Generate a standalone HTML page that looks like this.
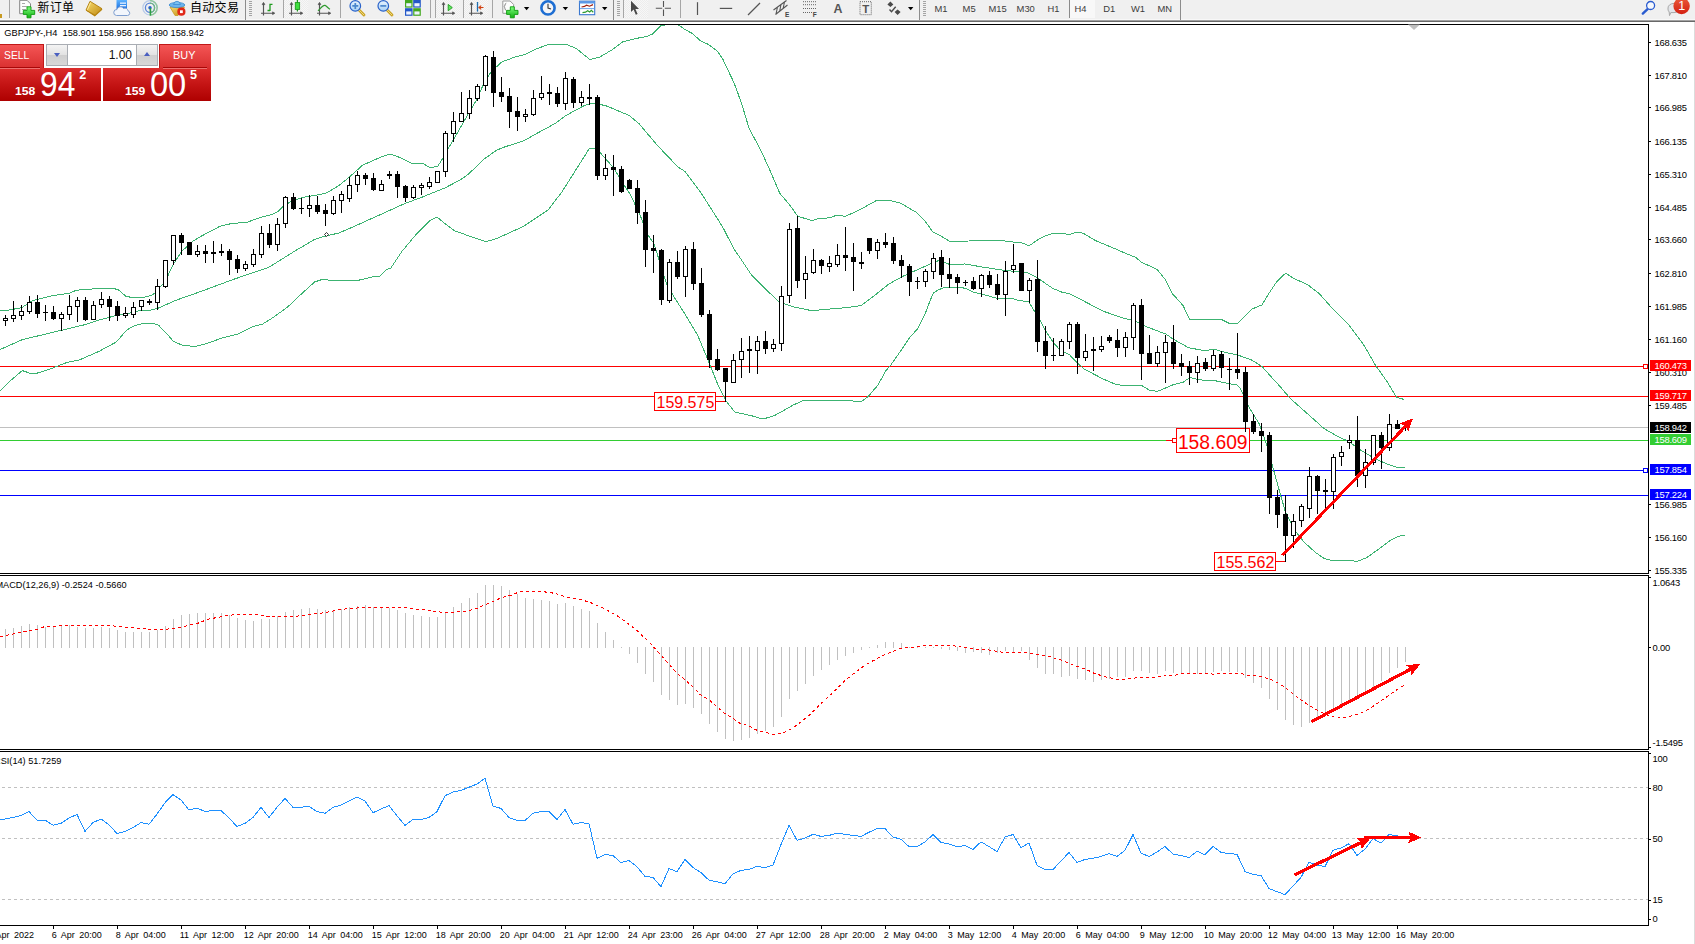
<!DOCTYPE html>
<html><head><meta charset="utf-8"><title>GBPJPY-,H4</title><style>
html,body{margin:0;padding:0;background:#fff}
body{width:1695px;height:944px;overflow:hidden;position:relative;font-family:"Liberation Sans","Noto Sans CJK SC",sans-serif;color:#000}
#tb{position:absolute;left:0;top:0;width:1695px;height:20px;background:#f0f0f0}
#tbl{position:absolute;left:0;top:19px;width:1695px;height:3px;background:linear-gradient(#f8f8f8 0,#f8f8f8 1px,#a2a2a2 1px,#a2a2a2 2px,#686868 2px,#686868 3px)}
#redge{position:absolute;left:1694px;top:22px;width:1px;height:922px;background:#dcdcdc}
.cj{position:absolute;top:0.8px;letter-spacing:0.3px;font-size:12px;line-height:15px;color:#000;white-space:nowrap}
.tf{position:absolute;top:2.5px;font-size:9.4px;line-height:12px;color:#3c3c3c;white-space:nowrap}
svg{position:absolute;left:0;top:0}
text{font-family:"Liberation Sans",sans-serif;white-space:pre}
.ax{font-size:9.4px;letter-spacing:-0.22px;fill:#000}
.dt{font-size:9px;letter-spacing:0;word-spacing:2px}
.tg{font-size:9.4px;letter-spacing:-0.22px;fill:#fff}
#panel{position:absolute;left:0;top:44px;width:211px;height:57px}
#panel div{position:absolute}
.pw{color:#fff;white-space:nowrap}
.sx{transform-origin:0 0}
</style></head><body>
<div id="tb"></div><div id="tbl"></div><div id="redge"></div>
<div class="cj" style="left:37.5px">新订单</div>
<div class="cj" style="left:190px">自动交易</div>
<div style="position:absolute;left:1069px;top:0;width:25px;height:18px;background:#f8f8f8;border-left:1px solid #8a8a8a"></div>
<div class="tf" style="left:934.5px">M1</div>
<div class="tf" style="left:962.6px">M5</div>
<div class="tf" style="left:988.5px">M15</div>
<div class="tf" style="left:1016.6px">M30</div>
<div class="tf" style="left:1047.5px">H1</div>
<div class="tf" style="left:1074.4px">H4</div>
<div class="tf" style="left:1103.3px">D1</div>
<div class="tf" style="left:1131px">W1</div>
<div class="tf" style="left:1157.5px">MN</div>
<svg width="1695" height="944" viewBox="0 0 1695 944">
<defs><clipPath id="cpMain"><rect x="0" y="25" width="1648" height="548"/></clipPath>
<linearGradient id="gBadge" x1="0" y1="0" x2="0" y2="1"><stop offset="0" stop-color="#ea5a3a"/><stop offset="1" stop-color="#d31f10"/></linearGradient>
</defs>
<g shape-rendering="crispEdges">
<line x1="0" y1="366.5" x2="1648" y2="366.5" stroke="#ff0000" stroke-width="1"/>
<line x1="0" y1="396.5" x2="1648" y2="396.5" stroke="#ff0000" stroke-width="1"/>
<line x1="0" y1="427.5" x2="1648" y2="427.5" stroke="#c0c0c0" stroke-width="1"/>
<line x1="0" y1="440.5" x2="1648" y2="440.5" stroke="#32cd32" stroke-width="1"/>
<line x1="0" y1="470.5" x2="1648" y2="470.5" stroke="#0000ff" stroke-width="1"/>
<line x1="0" y1="495.5" x2="1648" y2="495.5" stroke="#0000ff" stroke-width="1"/>
</g>
<g clip-path="url(#cpMain)" stroke="#3cb371" stroke-width="1" shape-rendering="crispEdges">
<polyline points="0,310.5 7.6,310.3 21.6,307.7 33.1,300.4 50.9,296 69.9,293.1 76.3,290.2 89,289.3 99.2,288.4 113.2,288.4 118.2,289.7 125.9,296.3 131,297.3 143.7,297.3 151.3,295.3 155.1,293.1 165.3,281 173.6,263.9 181.8,251.2 193.3,241 200,236.8 220.3,226.1 233.1,223.2 245.8,222.7 261,217.2 271.2,214.7 277.6,211.9 282.6,207 289,202.6 296.6,199.4 305.5,196.9 319.5,194.6 327.1,192.8 339.9,184.8 350,176.5 362.7,165.1 374.2,160 380,157.4 388.9,154.4 391.9,154.6 398.5,157 411.9,163.3 422.3,163.3 430.4,167.6 437.8,166.3 443,157.8 449.2,146.8 457.6,132.4 467.8,114.6 476.3,100.2 484.7,81.5 491.5,71.4 501.7,62 515.3,56.9 525.4,54.4 537.3,48.5 549.2,44.2 566.1,44.2 576.3,48.5 589.8,59.5 600,56.9 611.3,50.3 622.4,42 638.9,37.9 646.7,36.4 652.9,33.8 661.5,25.2 664.8,25 668.6,21.9 674.3,21.9 678.1,24.8 685.8,30 692,33.3 701,41.2 708.2,44.3 717.5,51.2 723,59.6 727.7,69.6 733.9,82.5 737.3,91.5 742.3,105.8 749.3,129 759.5,147.6 769.7,169.7 779.8,193.4 790,205.3 797.8,216.3 811.8,220.5 820,218.3 829.6,217.9 836.5,215.2 845.5,216.3 861.3,209 876.5,200.4 888.9,200.4 899.9,202.8 916.4,212.4 924.7,220.7 932.9,232 941.2,236.1 949.5,241.3 968.8,241 999.1,240.2 1012.8,242 1020,242.4 1023.8,243.4 1029.1,245.8 1038.1,239.6 1044.8,236.2 1052.4,233.4 1066.2,234 1070.5,234.3 1075.3,232.6 1079.1,232.4 1083.4,233.4 1095.3,240.5 1111.5,247.2 1125.8,253.4 1135.4,257.2 1141.1,262 1157.3,269.6 1164.9,279.1 1172.6,293.9 1182.9,305.3 1189.7,319.3 1210,319.3 1221.2,319.3 1229.7,323.6 1237.3,323.6 1251.7,309.2 1261.9,304.9 1268.6,293.9 1277.1,281.2 1285.6,273.2 1294,278.6 1307.6,284.6 1319.5,293.9 1333,309.2 1348.3,324.4 1363.6,344.7 1375.4,365.1 1387.3,382 1396.6,397.3 1404.2,399.5" fill="none" />
<polyline points="0,349.6 19.8,340.7 22.9,339.5 61,330.4 86.5,324.3 96.6,320.7 114.4,316 127.1,313.8 139.9,310.5 150,310.3 157.7,308.4 175.5,300.4 200,291.8 233.1,279.5 268.7,267.4 294.1,251.5 314.4,239.5 325.9,235.9 338.6,233.1 352.6,227.1 379,215.2 405.2,203.4 421.5,197.4 445.2,187.8 460,180 467.8,174.7 484.7,158.6 496.6,150.2 505.1,146.8 523.7,140.8 535.6,134.1 555.9,123.1 566.1,115.4 584.7,105.3 591.5,103.6 600,104.4 606.9,106.1 629,115.4 639.2,123.9 657.8,145.9 678.1,167.1 684.9,171.4 700.2,191.7 715.4,215.4 723.2,228 734.1,249.3 737.2,253.6 751.2,274.6 769.9,293.2 779.2,302.1 793.2,306.8 811.8,310.7 831.2,308.9 848.9,307.4 861.3,305.4 875.1,295 888.9,284 902.6,276.4 916.4,270.2 930.2,264 938.5,260.6 944,262 949.5,264.5 964.6,264 985.3,267.5 1003.2,270.2 1012.8,271.2 1023.8,272.5 1027.6,272.6 1037.2,277.7 1052.4,288.2 1062,292.2 1069.6,293.9 1081,299.6 1103.2,311.2 1125.3,318.8 1132,319.7 1145.6,326.4 1165.9,334.1 1174,339.6 1189,347.9 1205.5,350.7 1213.7,349 1226,352.7 1237,354.8 1251,359.6 1262,366.5 1270,375.5 1280,386.5 1290.6,398.8 1305.6,412.1 1324.2,428.7 1339,437.1 1348.3,441.2 1361.2,450.4 1376.1,459.3 1387.2,464 1396.5,467.1 1404.8,467.1" fill="none" />
<polyline points="0,391 9.9,381.1 22.3,370.6 29.7,373.1 37.2,373.1 49.6,369.2 66.9,362.5 79.3,360 99.1,351.3 116.5,341.9 126.4,330.3 133.8,326 143.7,323.3 153.6,323.3 158.6,325.3 166,332.7 173.4,341.4 183.3,345.6 195.7,346.4 205.6,343.9 223,337.7 237.9,334 252.7,326.5 262.6,324.1 272.5,317.9 287.4,307.2 302.3,293.1 314.7,281.9 322.1,279.5 337,280.7 356.8,280.7 371.7,277 380,276.1 386.5,269.6 391,267.9 402,251.3 415.8,234.8 429.6,221 437,216.9 443.3,222.4 454.4,230.7 473.6,237.6 486,241.7 495.7,238.9 523.2,226.6 548,210 561.8,192.1 578.3,166 589.3,148.6 594.8,148.6 600.2,152.7 613.7,168 623.9,184.9 630.7,195.1 640.8,217.1 648.5,235.8 653.9,243.5 667.3,286.2 683.6,311.9 697.6,335.2 709.3,363.2 718.6,386.5 725.6,400.5 734.9,412.1 751.2,415.6 762.9,419.1 774.5,415.6 793.2,405.1 802.5,400.9 809.5,400.3 834.2,400.8 862,401.1 868.3,396.3 877.9,385.2 885.8,370.9 890.6,365.3 901.7,349.4 909.6,337.5 917.6,328.8 925.5,312.9 930.3,300.2 933.5,293 938.2,289.9 944.6,287.5 949.5,287.1 957.7,287.1 966,288.4 972.9,292 985.3,295 997.7,298.5 1010,298.5 1012.8,298.5 1018.5,300.7 1028.6,301.4 1040.5,321.4 1045.1,330.2 1053.2,342.4 1058.8,348.7 1063.9,352 1069.5,354.6 1073,358.6 1077.6,363.2 1080.7,366 1084,369 1103.2,379 1116.8,384.9 1142.2,385.8 1149,390 1157.5,391.4 1172.7,384.9 1182.9,382.4 1189.7,377.6 1199.8,379.8 1210,380.7 1215,380.7 1229,383.7 1237,385 1240,387.9 1249,407.1 1259.3,424.1 1266.7,444.5 1272.2,464.9 1277.8,485.3 1285.2,511.2 1294.5,529.8 1303.8,541.8 1314.9,552 1324.2,558.5 1333.4,560.9 1346.4,560.4 1357.5,561.3 1366.8,557.6 1379.8,548.3 1390.9,540 1398.3,536.3 1404.8,535.3" fill="none" />
</g>
<rect x="654.5" y="392.5" width="61" height="18" fill="#fff" stroke="#ff0000" stroke-width="1" shape-rendering="crispEdges"/>
<text transform="translate(656.5,408) scale(0.958,1)" style="font-size:16.7px;fill:#ff0000">159.575</text>
<rect x="1176.5" y="428.5" width="73" height="24" fill="#fff" stroke="#ff0000" stroke-width="1" shape-rendering="crispEdges"/>
<text transform="translate(1177.9,448.5) scale(1.0,1)" style="font-size:19.3px;fill:#ff0000">158.609</text>
<rect x="1214.5" y="552.5" width="61" height="18" fill="#fff" stroke="#ff0000" stroke-width="1" shape-rendering="crispEdges"/>
<text transform="translate(1216.5,568) scale(0.958,1)" style="font-size:16.7px;fill:#ff0000">155.562</text>
<g shape-rendering="crispEdges" fill="#ff0000">
<rect x="716" y="401" width="10" height="1"/>
<rect x="1276" y="561" width="10" height="1"/>
<rect x="1166" y="440" width="8" height="1"/>
</g>
<rect x="1172.5" y="438.5" width="4" height="4" fill="#fff" stroke="#ff0000" shape-rendering="crispEdges"/>
<g shape-rendering="crispEdges" fill="#000">
<rect x="5" y="315" width="1" height="11"/>
<rect x="3" y="318" width="5" height="3"/>
<rect x="4" y="319" width="3" height="1" fill="#fff"/>
<rect x="13" y="301" width="1" height="21"/>
<rect x="11" y="315" width="5" height="4"/>
<rect x="12" y="316" width="3" height="2" fill="#fff"/>
<rect x="21" y="305" width="1" height="15"/>
<rect x="19" y="311" width="5" height="5"/>
<rect x="20" y="312" width="3" height="3" fill="#fff"/>
<rect x="29" y="296" width="1" height="18"/>
<rect x="27" y="302" width="5" height="10"/>
<rect x="28" y="303" width="3" height="8" fill="#fff"/>
<rect x="37" y="295" width="1" height="23"/>
<rect x="35" y="302" width="5" height="12"/>
<rect x="45" y="305" width="1" height="16"/>
<rect x="43" y="312" width="5" height="1"/>
<rect x="53" y="306" width="1" height="14"/>
<rect x="51" y="312" width="5" height="7"/>
<rect x="61" y="312" width="1" height="19"/>
<rect x="59" y="314" width="5" height="5"/>
<rect x="60" y="315" width="3" height="3" fill="#fff"/>
<rect x="69" y="295" width="1" height="25"/>
<rect x="67" y="306" width="5" height="9"/>
<rect x="68" y="307" width="3" height="7" fill="#fff"/>
<rect x="77" y="297" width="1" height="25"/>
<rect x="75" y="300" width="5" height="7"/>
<rect x="76" y="301" width="3" height="5" fill="#fff"/>
<rect x="85" y="297" width="1" height="24"/>
<rect x="83" y="300" width="5" height="20"/>
<rect x="93" y="301" width="1" height="19"/>
<rect x="91" y="305" width="5" height="15"/>
<rect x="92" y="306" width="3" height="13" fill="#fff"/>
<rect x="101" y="292" width="1" height="16"/>
<rect x="99" y="299" width="5" height="6"/>
<rect x="100" y="300" width="3" height="4" fill="#fff"/>
<rect x="109" y="296" width="1" height="25"/>
<rect x="107" y="299" width="5" height="8"/>
<rect x="117" y="301" width="1" height="20"/>
<rect x="115" y="306" width="5" height="10"/>
<rect x="125" y="307" width="1" height="11"/>
<rect x="123" y="313" width="5" height="3"/>
<rect x="124" y="314" width="3" height="1" fill="#fff"/>
<rect x="133" y="302" width="1" height="16"/>
<rect x="131" y="307" width="5" height="8"/>
<rect x="132" y="308" width="3" height="6" fill="#fff"/>
<rect x="141" y="300" width="1" height="11"/>
<rect x="139" y="300" width="5" height="7"/>
<rect x="140" y="301" width="3" height="5" fill="#fff"/>
<rect x="149" y="299" width="1" height="6"/>
<rect x="147" y="301" width="5" height="2"/>
<rect x="157" y="279" width="1" height="31"/>
<rect x="155" y="286" width="5" height="17"/>
<rect x="156" y="287" width="3" height="15" fill="#fff"/>
<rect x="165" y="260" width="1" height="28"/>
<rect x="163" y="260" width="5" height="27"/>
<rect x="164" y="261" width="3" height="25" fill="#fff"/>
<rect x="173" y="235" width="1" height="30"/>
<rect x="171" y="235" width="5" height="26"/>
<rect x="172" y="236" width="3" height="24" fill="#fff"/>
<rect x="181" y="233" width="1" height="22"/>
<rect x="179" y="235" width="5" height="8"/>
<rect x="189" y="242" width="1" height="13"/>
<rect x="187" y="242" width="5" height="13"/>
<rect x="197" y="245" width="1" height="12"/>
<rect x="195" y="251" width="5" height="4"/>
<rect x="196" y="252" width="3" height="2" fill="#fff"/>
<rect x="205" y="245" width="1" height="18"/>
<rect x="203" y="251" width="5" height="3"/>
<rect x="213" y="241" width="1" height="22"/>
<rect x="211" y="252" width="5" height="2"/>
<rect x="221" y="244" width="1" height="12"/>
<rect x="219" y="251" width="5" height="2"/>
<rect x="229" y="249" width="1" height="26"/>
<rect x="227" y="251" width="5" height="9"/>
<rect x="237" y="255" width="1" height="18"/>
<rect x="235" y="259" width="5" height="10"/>
<rect x="245" y="261" width="1" height="10"/>
<rect x="243" y="264" width="5" height="5"/>
<rect x="244" y="265" width="3" height="3" fill="#fff"/>
<rect x="253" y="249" width="1" height="18"/>
<rect x="251" y="254" width="5" height="11"/>
<rect x="252" y="255" width="3" height="9" fill="#fff"/>
<rect x="261" y="226" width="1" height="32"/>
<rect x="259" y="233" width="5" height="22"/>
<rect x="260" y="234" width="3" height="20" fill="#fff"/>
<rect x="269" y="224" width="1" height="24"/>
<rect x="267" y="233" width="5" height="12"/>
<rect x="277" y="218" width="1" height="33"/>
<rect x="275" y="224" width="5" height="21"/>
<rect x="276" y="225" width="3" height="19" fill="#fff"/>
<rect x="285" y="196" width="1" height="32"/>
<rect x="283" y="197" width="5" height="27"/>
<rect x="284" y="198" width="3" height="25" fill="#fff"/>
<rect x="293" y="193" width="1" height="17"/>
<rect x="291" y="197" width="5" height="12"/>
<rect x="301" y="198" width="1" height="16"/>
<rect x="299" y="208" width="5" height="1"/>
<rect x="309" y="195" width="1" height="22"/>
<rect x="307" y="205" width="5" height="4"/>
<rect x="308" y="206" width="3" height="2" fill="#fff"/>
<rect x="317" y="196" width="1" height="18"/>
<rect x="315" y="205" width="5" height="7"/>
<rect x="325" y="204" width="1" height="22"/>
<rect x="323" y="210" width="5" height="4"/>
<rect x="333" y="196" width="1" height="19"/>
<rect x="331" y="200" width="5" height="14"/>
<rect x="332" y="201" width="3" height="12" fill="#fff"/>
<rect x="341" y="191" width="1" height="22"/>
<rect x="339" y="194" width="5" height="7"/>
<rect x="340" y="195" width="3" height="5" fill="#fff"/>
<rect x="349" y="177" width="1" height="25"/>
<rect x="347" y="185" width="5" height="14"/>
<rect x="348" y="186" width="3" height="12" fill="#fff"/>
<rect x="357" y="171" width="1" height="21"/>
<rect x="355" y="175" width="5" height="10"/>
<rect x="356" y="176" width="3" height="8" fill="#fff"/>
<rect x="365" y="173" width="1" height="12"/>
<rect x="363" y="175" width="5" height="4"/>
<rect x="373" y="173" width="1" height="18"/>
<rect x="371" y="178" width="5" height="12"/>
<rect x="381" y="180" width="1" height="11"/>
<rect x="379" y="184" width="5" height="7"/>
<rect x="380" y="185" width="3" height="5" fill="#fff"/>
<rect x="389" y="171" width="1" height="8"/>
<rect x="387" y="174" width="5" height="2"/>
<rect x="397" y="171" width="1" height="27"/>
<rect x="395" y="174" width="5" height="13"/>
<rect x="405" y="185" width="1" height="17"/>
<rect x="403" y="186" width="5" height="12"/>
<rect x="413" y="185" width="1" height="14"/>
<rect x="411" y="187" width="5" height="11"/>
<rect x="412" y="188" width="3" height="9" fill="#fff"/>
<rect x="421" y="183" width="1" height="12"/>
<rect x="419" y="185" width="5" height="3"/>
<rect x="420" y="186" width="3" height="1" fill="#fff"/>
<rect x="429" y="177" width="1" height="12"/>
<rect x="427" y="182" width="5" height="5"/>
<rect x="428" y="183" width="3" height="3" fill="#fff"/>
<rect x="437" y="171" width="1" height="12"/>
<rect x="435" y="171" width="5" height="12"/>
<rect x="436" y="172" width="3" height="10" fill="#fff"/>
<rect x="445" y="131" width="1" height="46"/>
<rect x="443" y="133" width="5" height="39"/>
<rect x="444" y="134" width="3" height="37" fill="#fff"/>
<rect x="453" y="112" width="1" height="30"/>
<rect x="451" y="121" width="5" height="13"/>
<rect x="452" y="122" width="3" height="11" fill="#fff"/>
<rect x="461" y="92" width="1" height="30"/>
<rect x="459" y="113" width="5" height="9"/>
<rect x="460" y="114" width="3" height="7" fill="#fff"/>
<rect x="469" y="90" width="1" height="29"/>
<rect x="467" y="98" width="5" height="16"/>
<rect x="468" y="99" width="3" height="14" fill="#fff"/>
<rect x="477" y="84" width="1" height="17"/>
<rect x="475" y="86" width="5" height="13"/>
<rect x="476" y="87" width="3" height="11" fill="#fff"/>
<rect x="485" y="55" width="1" height="36"/>
<rect x="483" y="56" width="5" height="30"/>
<rect x="484" y="57" width="3" height="28" fill="#fff"/>
<rect x="493" y="51" width="1" height="56"/>
<rect x="491" y="57" width="5" height="36"/>
<rect x="501" y="77" width="1" height="25"/>
<rect x="499" y="92" width="5" height="5"/>
<rect x="509" y="88" width="1" height="40"/>
<rect x="507" y="96" width="5" height="16"/>
<rect x="517" y="97" width="1" height="34"/>
<rect x="515" y="111" width="5" height="6"/>
<rect x="525" y="109" width="1" height="13"/>
<rect x="523" y="114" width="5" height="3"/>
<rect x="524" y="115" width="3" height="1" fill="#fff"/>
<rect x="533" y="90" width="1" height="26"/>
<rect x="531" y="98" width="5" height="17"/>
<rect x="532" y="99" width="3" height="15" fill="#fff"/>
<rect x="541" y="76" width="1" height="24"/>
<rect x="539" y="93" width="5" height="5"/>
<rect x="540" y="94" width="3" height="3" fill="#fff"/>
<rect x="549" y="84" width="1" height="21"/>
<rect x="547" y="92" width="5" height="2"/>
<rect x="557" y="87" width="1" height="20"/>
<rect x="555" y="93" width="5" height="11"/>
<rect x="565" y="72" width="1" height="38"/>
<rect x="563" y="78" width="5" height="26"/>
<rect x="564" y="79" width="3" height="24" fill="#fff"/>
<rect x="573" y="77" width="1" height="31"/>
<rect x="571" y="79" width="5" height="24"/>
<rect x="581" y="91" width="1" height="15"/>
<rect x="579" y="97" width="5" height="6"/>
<rect x="580" y="98" width="3" height="4" fill="#fff"/>
<rect x="589" y="84" width="1" height="21"/>
<rect x="587" y="97" width="5" height="2"/>
<rect x="597" y="95" width="1" height="85"/>
<rect x="595" y="97" width="5" height="79"/>
<rect x="605" y="154" width="1" height="26"/>
<rect x="603" y="168" width="5" height="8"/>
<rect x="604" y="169" width="3" height="6" fill="#fff"/>
<rect x="613" y="155" width="1" height="41"/>
<rect x="611" y="167" width="5" height="3"/>
<rect x="621" y="166" width="1" height="27"/>
<rect x="619" y="169" width="5" height="23"/>
<rect x="629" y="179" width="1" height="10"/>
<rect x="627" y="180" width="5" height="9"/>
<rect x="637" y="180" width="1" height="44"/>
<rect x="635" y="188" width="5" height="25"/>
<rect x="645" y="200" width="1" height="67"/>
<rect x="643" y="212" width="5" height="38"/>
<rect x="653" y="235" width="1" height="38"/>
<rect x="651" y="248" width="5" height="3"/>
<rect x="661" y="249" width="1" height="56"/>
<rect x="659" y="250" width="5" height="50"/>
<rect x="669" y="259" width="1" height="44"/>
<rect x="667" y="262" width="5" height="39"/>
<rect x="668" y="263" width="3" height="37" fill="#fff"/>
<rect x="677" y="251" width="1" height="28"/>
<rect x="675" y="262" width="5" height="15"/>
<rect x="685" y="246" width="1" height="51"/>
<rect x="683" y="249" width="5" height="28"/>
<rect x="684" y="250" width="3" height="26" fill="#fff"/>
<rect x="693" y="242" width="1" height="48"/>
<rect x="691" y="249" width="5" height="35"/>
<rect x="701" y="268" width="1" height="49"/>
<rect x="699" y="283" width="5" height="32"/>
<rect x="709" y="310" width="1" height="58"/>
<rect x="707" y="314" width="5" height="46"/>
<rect x="717" y="349" width="1" height="22"/>
<rect x="715" y="359" width="5" height="11"/>
<rect x="725" y="368" width="1" height="34"/>
<rect x="723" y="368" width="5" height="14"/>
<rect x="733" y="354" width="1" height="29"/>
<rect x="731" y="360" width="5" height="23"/>
<rect x="732" y="361" width="3" height="21" fill="#fff"/>
<rect x="741" y="338" width="1" height="40"/>
<rect x="739" y="351" width="5" height="9"/>
<rect x="740" y="352" width="3" height="7" fill="#fff"/>
<rect x="749" y="336" width="1" height="37"/>
<rect x="747" y="349" width="5" height="2"/>
<rect x="757" y="336" width="1" height="38"/>
<rect x="755" y="341" width="5" height="10"/>
<rect x="756" y="342" width="3" height="8" fill="#fff"/>
<rect x="765" y="331" width="1" height="23"/>
<rect x="763" y="341" width="5" height="8"/>
<rect x="773" y="339" width="1" height="13"/>
<rect x="771" y="344" width="5" height="5"/>
<rect x="772" y="345" width="3" height="3" fill="#fff"/>
<rect x="781" y="286" width="1" height="65"/>
<rect x="779" y="296" width="5" height="48"/>
<rect x="780" y="297" width="3" height="46" fill="#fff"/>
<rect x="789" y="223" width="1" height="80"/>
<rect x="787" y="229" width="5" height="67"/>
<rect x="788" y="230" width="3" height="65" fill="#fff"/>
<rect x="797" y="216" width="1" height="72"/>
<rect x="795" y="228" width="5" height="53"/>
<rect x="805" y="256" width="1" height="43"/>
<rect x="803" y="273" width="5" height="7"/>
<rect x="804" y="274" width="3" height="5" fill="#fff"/>
<rect x="813" y="249" width="1" height="25"/>
<rect x="811" y="260" width="5" height="13"/>
<rect x="812" y="261" width="3" height="11" fill="#fff"/>
<rect x="821" y="259" width="1" height="15"/>
<rect x="819" y="260" width="5" height="6"/>
<rect x="829" y="256" width="1" height="16"/>
<rect x="827" y="263" width="5" height="4"/>
<rect x="828" y="264" width="3" height="2" fill="#fff"/>
<rect x="837" y="244" width="1" height="23"/>
<rect x="835" y="255" width="5" height="10"/>
<rect x="836" y="256" width="3" height="8" fill="#fff"/>
<rect x="845" y="227" width="1" height="44"/>
<rect x="843" y="255" width="5" height="3"/>
<rect x="853" y="243" width="1" height="48"/>
<rect x="851" y="257" width="5" height="5"/>
<rect x="861" y="252" width="1" height="17"/>
<rect x="859" y="262" width="5" height="2"/>
<rect x="869" y="238" width="1" height="16"/>
<rect x="867" y="238" width="5" height="13"/>
<rect x="877" y="239" width="1" height="20"/>
<rect x="875" y="242" width="5" height="9"/>
<rect x="876" y="243" width="3" height="7" fill="#fff"/>
<rect x="885" y="233" width="1" height="15"/>
<rect x="883" y="242" width="5" height="3"/>
<rect x="893" y="237" width="1" height="27"/>
<rect x="891" y="243" width="5" height="18"/>
<rect x="901" y="255" width="1" height="23"/>
<rect x="899" y="260" width="5" height="6"/>
<rect x="909" y="264" width="1" height="32"/>
<rect x="907" y="266" width="5" height="16"/>
<rect x="917" y="277" width="1" height="12"/>
<rect x="915" y="281" width="5" height="1"/>
<rect x="925" y="269" width="1" height="18"/>
<rect x="923" y="271" width="5" height="11"/>
<rect x="924" y="272" width="3" height="9" fill="#fff"/>
<rect x="933" y="253" width="1" height="26"/>
<rect x="931" y="258" width="5" height="14"/>
<rect x="932" y="259" width="3" height="12" fill="#fff"/>
<rect x="941" y="250" width="1" height="37"/>
<rect x="939" y="257" width="5" height="18"/>
<rect x="949" y="258" width="1" height="30"/>
<rect x="947" y="274" width="5" height="5"/>
<rect x="957" y="274" width="1" height="20"/>
<rect x="955" y="277" width="5" height="6"/>
<rect x="965" y="280" width="1" height="6"/>
<rect x="963" y="282" width="5" height="1"/>
<rect x="973" y="277" width="1" height="13"/>
<rect x="971" y="281" width="5" height="8"/>
<rect x="981" y="274" width="1" height="23"/>
<rect x="979" y="275" width="5" height="14"/>
<rect x="980" y="276" width="3" height="12" fill="#fff"/>
<rect x="989" y="271" width="1" height="17"/>
<rect x="987" y="275" width="5" height="10"/>
<rect x="997" y="274" width="1" height="26"/>
<rect x="995" y="284" width="5" height="11"/>
<rect x="1005" y="261" width="1" height="55"/>
<rect x="1003" y="271" width="5" height="24"/>
<rect x="1004" y="272" width="3" height="22" fill="#fff"/>
<rect x="1013" y="244" width="1" height="29"/>
<rect x="1011" y="265" width="5" height="5"/>
<rect x="1012" y="266" width="3" height="3" fill="#fff"/>
<rect x="1021" y="263" width="1" height="28"/>
<rect x="1019" y="263" width="5" height="28"/>
<rect x="1029" y="278" width="1" height="25"/>
<rect x="1027" y="280" width="5" height="11"/>
<rect x="1028" y="281" width="3" height="9" fill="#fff"/>
<rect x="1037" y="260" width="1" height="92"/>
<rect x="1035" y="279" width="5" height="63"/>
<rect x="1045" y="326" width="1" height="43"/>
<rect x="1043" y="341" width="5" height="15"/>
<rect x="1053" y="338" width="1" height="23"/>
<rect x="1051" y="355" width="5" height="1"/>
<rect x="1061" y="339" width="1" height="17"/>
<rect x="1059" y="341" width="5" height="15"/>
<rect x="1060" y="342" width="3" height="13" fill="#fff"/>
<rect x="1069" y="322" width="1" height="27"/>
<rect x="1067" y="324" width="5" height="18"/>
<rect x="1068" y="325" width="3" height="16" fill="#fff"/>
<rect x="1077" y="322" width="1" height="52"/>
<rect x="1075" y="324" width="5" height="34"/>
<rect x="1085" y="334" width="1" height="27"/>
<rect x="1083" y="351" width="5" height="7"/>
<rect x="1084" y="352" width="3" height="5" fill="#fff"/>
<rect x="1093" y="337" width="1" height="34"/>
<rect x="1091" y="349" width="5" height="2"/>
<rect x="1101" y="336" width="1" height="16"/>
<rect x="1099" y="346" width="5" height="4"/>
<rect x="1100" y="347" width="3" height="2" fill="#fff"/>
<rect x="1109" y="335" width="1" height="8"/>
<rect x="1107" y="337" width="5" height="4"/>
<rect x="1117" y="329" width="1" height="28"/>
<rect x="1115" y="340" width="5" height="8"/>
<rect x="1125" y="332" width="1" height="25"/>
<rect x="1123" y="337" width="5" height="11"/>
<rect x="1124" y="338" width="3" height="9" fill="#fff"/>
<rect x="1133" y="303" width="1" height="47"/>
<rect x="1131" y="305" width="5" height="33"/>
<rect x="1132" y="306" width="3" height="31" fill="#fff"/>
<rect x="1141" y="299" width="1" height="81"/>
<rect x="1139" y="305" width="5" height="49"/>
<rect x="1149" y="335" width="1" height="29"/>
<rect x="1147" y="353" width="5" height="11"/>
<rect x="1157" y="346" width="1" height="21"/>
<rect x="1155" y="352" width="5" height="12"/>
<rect x="1156" y="353" width="3" height="10" fill="#fff"/>
<rect x="1165" y="335" width="1" height="48"/>
<rect x="1163" y="342" width="5" height="11"/>
<rect x="1164" y="343" width="3" height="9" fill="#fff"/>
<rect x="1173" y="325" width="1" height="44"/>
<rect x="1171" y="342" width="5" height="22"/>
<rect x="1181" y="354" width="1" height="22"/>
<rect x="1179" y="363" width="5" height="4"/>
<rect x="1189" y="361" width="1" height="24"/>
<rect x="1187" y="366" width="5" height="7"/>
<rect x="1197" y="356" width="1" height="27"/>
<rect x="1195" y="363" width="5" height="10"/>
<rect x="1196" y="364" width="3" height="8" fill="#fff"/>
<rect x="1205" y="358" width="1" height="13"/>
<rect x="1203" y="362" width="5" height="7"/>
<rect x="1213" y="350" width="1" height="21"/>
<rect x="1211" y="355" width="5" height="14"/>
<rect x="1212" y="356" width="3" height="12" fill="#fff"/>
<rect x="1221" y="351" width="1" height="27"/>
<rect x="1219" y="354" width="5" height="14"/>
<rect x="1229" y="358" width="1" height="32"/>
<rect x="1227" y="369" width="5" height="1"/>
<rect x="1237" y="333" width="1" height="46"/>
<rect x="1235" y="369" width="5" height="4"/>
<rect x="1245" y="367" width="1" height="65"/>
<rect x="1243" y="372" width="5" height="50"/>
<rect x="1253" y="414" width="1" height="20"/>
<rect x="1251" y="421" width="5" height="11"/>
<rect x="1261" y="423" width="1" height="29"/>
<rect x="1259" y="431" width="5" height="5"/>
<rect x="1269" y="432" width="1" height="82"/>
<rect x="1267" y="435" width="5" height="63"/>
<rect x="1277" y="490" width="1" height="38"/>
<rect x="1275" y="497" width="5" height="18"/>
<rect x="1285" y="495" width="1" height="67"/>
<rect x="1283" y="514" width="5" height="22"/>
<rect x="1293" y="514" width="1" height="34"/>
<rect x="1291" y="521" width="5" height="15"/>
<rect x="1292" y="522" width="3" height="13" fill="#fff"/>
<rect x="1301" y="504" width="1" height="23"/>
<rect x="1299" y="506" width="5" height="15"/>
<rect x="1300" y="507" width="3" height="13" fill="#fff"/>
<rect x="1309" y="467" width="1" height="51"/>
<rect x="1307" y="476" width="5" height="33"/>
<rect x="1308" y="477" width="3" height="31" fill="#fff"/>
<rect x="1317" y="475" width="1" height="39"/>
<rect x="1315" y="476" width="5" height="15"/>
<rect x="1325" y="479" width="1" height="30"/>
<rect x="1323" y="490" width="5" height="2"/>
<rect x="1333" y="454" width="1" height="55"/>
<rect x="1331" y="457" width="5" height="35"/>
<rect x="1332" y="458" width="3" height="33" fill="#fff"/>
<rect x="1341" y="446" width="1" height="20"/>
<rect x="1339" y="452" width="5" height="5"/>
<rect x="1340" y="453" width="3" height="3" fill="#fff"/>
<rect x="1349" y="435" width="1" height="14"/>
<rect x="1347" y="440" width="5" height="3"/>
<rect x="1348" y="441" width="3" height="1" fill="#fff"/>
<rect x="1357" y="416" width="1" height="71"/>
<rect x="1355" y="440" width="5" height="36"/>
<rect x="1365" y="449" width="1" height="39"/>
<rect x="1363" y="462" width="5" height="14"/>
<rect x="1364" y="463" width="3" height="12" fill="#fff"/>
<rect x="1373" y="435" width="1" height="30"/>
<rect x="1371" y="435" width="5" height="28"/>
<rect x="1372" y="436" width="3" height="26" fill="#fff"/>
<rect x="1381" y="432" width="1" height="37"/>
<rect x="1379" y="435" width="5" height="13"/>
<rect x="1389" y="414" width="1" height="37"/>
<rect x="1387" y="424" width="5" height="24"/>
<rect x="1388" y="425" width="3" height="22" fill="#fff"/>
<rect x="1397" y="420" width="1" height="9"/>
<rect x="1395" y="424" width="5" height="5"/>
<rect x="1405" y="425" width="1" height="6"/>
<rect x="1403" y="427" width="5" height="1"/>
</g>
<g shape-rendering="crispEdges" fill="#c0c0c0">
<rect x="5" y="629" width="1" height="19"/>
<rect x="13" y="628" width="1" height="20"/>
<rect x="21" y="626" width="1" height="22"/>
<rect x="29" y="624" width="1" height="24"/>
<rect x="37" y="625" width="1" height="23"/>
<rect x="45" y="627" width="1" height="21"/>
<rect x="53" y="627" width="1" height="21"/>
<rect x="61" y="626" width="1" height="22"/>
<rect x="69" y="625" width="1" height="23"/>
<rect x="77" y="627" width="1" height="21"/>
<rect x="85" y="628" width="1" height="20"/>
<rect x="93" y="628" width="1" height="20"/>
<rect x="101" y="627" width="1" height="21"/>
<rect x="109" y="628" width="1" height="20"/>
<rect x="117" y="630" width="1" height="18"/>
<rect x="125" y="632" width="1" height="16"/>
<rect x="133" y="632" width="1" height="16"/>
<rect x="141" y="632" width="1" height="16"/>
<rect x="149" y="632" width="1" height="16"/>
<rect x="157" y="630" width="1" height="18"/>
<rect x="165" y="626" width="1" height="22"/>
<rect x="173" y="619" width="1" height="29"/>
<rect x="181" y="615" width="1" height="33"/>
<rect x="189" y="614" width="1" height="34"/>
<rect x="197" y="613" width="1" height="35"/>
<rect x="205" y="613" width="1" height="35"/>
<rect x="213" y="613" width="1" height="35"/>
<rect x="221" y="613" width="1" height="35"/>
<rect x="229" y="615" width="1" height="33"/>
<rect x="237" y="618" width="1" height="30"/>
<rect x="245" y="620" width="1" height="28"/>
<rect x="253" y="621" width="1" height="27"/>
<rect x="261" y="619" width="1" height="29"/>
<rect x="269" y="619" width="1" height="29"/>
<rect x="277" y="616" width="1" height="32"/>
<rect x="285" y="612" width="1" height="36"/>
<rect x="293" y="610" width="1" height="38"/>
<rect x="301" y="609" width="1" height="39"/>
<rect x="309" y="608" width="1" height="40"/>
<rect x="317" y="609" width="1" height="39"/>
<rect x="325" y="610" width="1" height="38"/>
<rect x="333" y="610" width="1" height="38"/>
<rect x="341" y="609" width="1" height="39"/>
<rect x="349" y="607" width="1" height="41"/>
<rect x="357" y="606" width="1" height="42"/>
<rect x="365" y="605" width="1" height="43"/>
<rect x="373" y="607" width="1" height="41"/>
<rect x="381" y="607" width="1" height="41"/>
<rect x="389" y="608" width="1" height="40"/>
<rect x="397" y="610" width="1" height="38"/>
<rect x="405" y="613" width="1" height="35"/>
<rect x="413" y="615" width="1" height="33"/>
<rect x="421" y="616" width="1" height="32"/>
<rect x="429" y="617" width="1" height="31"/>
<rect x="437" y="617" width="1" height="31"/>
<rect x="445" y="613" width="1" height="35"/>
<rect x="453" y="607" width="1" height="41"/>
<rect x="461" y="603" width="1" height="45"/>
<rect x="469" y="598" width="1" height="50"/>
<rect x="477" y="593" width="1" height="55"/>
<rect x="485" y="585" width="1" height="63"/>
<rect x="493" y="585" width="1" height="63"/>
<rect x="501" y="586" width="1" height="62"/>
<rect x="509" y="590" width="1" height="58"/>
<rect x="517" y="594" width="1" height="54"/>
<rect x="525" y="598" width="1" height="50"/>
<rect x="533" y="599" width="1" height="49"/>
<rect x="541" y="600" width="1" height="48"/>
<rect x="549" y="601" width="1" height="47"/>
<rect x="557" y="604" width="1" height="44"/>
<rect x="565" y="603" width="1" height="45"/>
<rect x="573" y="606" width="1" height="42"/>
<rect x="581" y="609" width="1" height="39"/>
<rect x="589" y="611" width="1" height="37"/>
<rect x="597" y="623" width="1" height="25"/>
<rect x="605" y="632" width="1" height="16"/>
<rect x="613" y="640" width="1" height="8"/>
<rect x="621" y="647" width="1" height="1"/>
<rect x="629" y="647" width="1" height="7"/>
<rect x="637" y="647" width="1" height="16"/>
<rect x="645" y="647" width="1" height="27"/>
<rect x="653" y="647" width="1" height="35"/>
<rect x="661" y="647" width="1" height="48"/>
<rect x="669" y="647" width="1" height="53"/>
<rect x="677" y="647" width="1" height="58"/>
<rect x="685" y="647" width="1" height="57"/>
<rect x="693" y="647" width="1" height="61"/>
<rect x="701" y="647" width="1" height="67"/>
<rect x="709" y="647" width="1" height="77"/>
<rect x="717" y="647" width="1" height="85"/>
<rect x="725" y="647" width="1" height="92"/>
<rect x="733" y="647" width="1" height="94"/>
<rect x="741" y="647" width="1" height="93"/>
<rect x="749" y="647" width="1" height="91"/>
<rect x="757" y="647" width="1" height="87"/>
<rect x="765" y="647" width="1" height="84"/>
<rect x="773" y="647" width="1" height="80"/>
<rect x="781" y="647" width="1" height="70"/>
<rect x="789" y="647" width="1" height="52"/>
<rect x="797" y="647" width="1" height="44"/>
<rect x="805" y="647" width="1" height="37"/>
<rect x="813" y="647" width="1" height="29"/>
<rect x="821" y="647" width="1" height="23"/>
<rect x="829" y="647" width="1" height="18"/>
<rect x="837" y="647" width="1" height="13"/>
<rect x="845" y="647" width="1" height="9"/>
<rect x="853" y="647" width="1" height="6"/>
<rect x="861" y="647" width="1" height="3"/>
<rect x="869" y="647" width="1" height="1"/>
<rect x="877" y="645" width="1" height="3"/>
<rect x="885" y="642" width="1" height="6"/>
<rect x="893" y="642" width="1" height="6"/>
<rect x="901" y="643" width="1" height="5"/>
<rect x="909" y="647" width="1" height="1"/>
<rect x="917" y="647" width="1" height="1"/>
<rect x="925" y="647" width="1" height="1"/>
<rect x="933" y="647" width="1" height="1"/>
<rect x="941" y="647" width="1" height="2"/>
<rect x="949" y="647" width="1" height="3"/>
<rect x="957" y="647" width="1" height="4"/>
<rect x="965" y="647" width="1" height="6"/>
<rect x="973" y="647" width="1" height="5"/>
<rect x="981" y="647" width="1" height="6"/>
<rect x="989" y="647" width="1" height="8"/>
<rect x="997" y="647" width="1" height="6"/>
<rect x="1005" y="647" width="1" height="4"/>
<rect x="1013" y="647" width="1" height="5"/>
<rect x="1021" y="647" width="1" height="4"/>
<rect x="1029" y="647" width="1" height="13"/>
<rect x="1037" y="647" width="1" height="21"/>
<rect x="1045" y="647" width="1" height="27"/>
<rect x="1053" y="647" width="1" height="27"/>
<rect x="1061" y="647" width="1" height="30"/>
<rect x="1069" y="647" width="1" height="29"/>
<rect x="1077" y="647" width="1" height="32"/>
<rect x="1085" y="647" width="1" height="33"/>
<rect x="1093" y="647" width="1" height="35"/>
<rect x="1101" y="647" width="1" height="33"/>
<rect x="1109" y="647" width="1" height="32"/>
<rect x="1117" y="647" width="1" height="30"/>
<rect x="1125" y="647" width="1" height="30"/>
<rect x="1133" y="647" width="1" height="24"/>
<rect x="1141" y="647" width="1" height="24"/>
<rect x="1149" y="647" width="1" height="26"/>
<rect x="1157" y="647" width="1" height="27"/>
<rect x="1165" y="647" width="1" height="24"/>
<rect x="1173" y="647" width="1" height="26"/>
<rect x="1181" y="647" width="1" height="26"/>
<rect x="1189" y="647" width="1" height="27"/>
<rect x="1197" y="647" width="1" height="27"/>
<rect x="1205" y="647" width="1" height="26"/>
<rect x="1213" y="647" width="1" height="25"/>
<rect x="1221" y="647" width="1" height="24"/>
<rect x="1229" y="647" width="1" height="25"/>
<rect x="1237" y="647" width="1" height="25"/>
<rect x="1245" y="647" width="1" height="31"/>
<rect x="1253" y="647" width="1" height="36"/>
<rect x="1261" y="647" width="1" height="41"/>
<rect x="1269" y="647" width="1" height="52"/>
<rect x="1277" y="647" width="1" height="63"/>
<rect x="1285" y="647" width="1" height="73"/>
<rect x="1293" y="647" width="1" height="78"/>
<rect x="1301" y="647" width="1" height="80"/>
<rect x="1309" y="647" width="1" height="76"/>
<rect x="1317" y="647" width="1" height="71"/>
<rect x="1325" y="647" width="1" height="67"/>
<rect x="1333" y="647" width="1" height="63"/>
<rect x="1341" y="647" width="1" height="59"/>
<rect x="1349" y="647" width="1" height="55"/>
<rect x="1357" y="647" width="1" height="51"/>
<rect x="1365" y="647" width="1" height="46"/>
<rect x="1373" y="647" width="1" height="41"/>
<rect x="1381" y="647" width="1" height="34"/>
<rect x="1389" y="647" width="1" height="26"/>
<rect x="1397" y="647" width="1" height="21"/>
<rect x="1405" y="647" width="1" height="15"/>
</g>
<polyline points="0,636.6 12.7,634 21.2,632.3 38.2,629.2 44.6,626.6 68,625.6 106.2,625.6 121.1,626.4 127.4,627.7 144.4,628.5 148.7,629.6 165.7,629.2 176.3,628.1 189,625.3 197.5,623.4 208.2,619.2 223,616.4 233.6,614.7 254.9,614.3 263.4,615.4 269.8,616.8 295.2,616.4 308,614.7 325,612.6 337.7,610 349.2,608.5 364.9,607.5 407.3,607.5 411.6,608.6 430.7,610.5 435,611.5 445.6,612.6 464.7,611.5 471.1,610 477.4,608.3 483.8,605.2 494.4,600.9 500.8,597.9 511.4,595.2 517.8,592.4 524.2,591.4 541.2,591.4 556,593.5 562.4,595.8 573,598.4 579.4,599.4 590,602.2 596.4,605.4 602.8,607.9 615.5,614.7 626.1,622.2 632.5,627 638.9,632.3 651.6,644.7 664.4,658.9 677.1,673.3 685.6,680.1 696.2,690.3 700,694.6 708.5,699.3 725.5,714.1 731.9,717.7 740.4,723.7 748.9,725.8 757.3,730.5 765.8,732.2 772.2,734.3 780.7,733.9 791.3,729 802,721.1 810.5,714.1 821.1,703.5 833.8,691.8 846.6,679.1 865.7,664.6 882.7,655.7 900.7,648.3 912.4,647.2 923,645.7 952.8,645.5 959.1,646.8 967.6,647.6 974,649.3 988.9,650 1001.6,652.1 1025,652.5 1031.4,653.6 1049.2,656.4 1061.2,660.2 1072.4,664.7 1085.9,669.2 1094.8,673.6 1106,677 1117.3,679.2 1126.2,679.2 1133,678.1 1157.6,677 1164.3,675.2 1175.5,675.2 1182.3,673.6 1206.9,673.6 1213.7,674.1 1224.9,673.2 1240.6,673.2 1245,674.8 1260.7,676.3 1271.9,679.9 1283.2,686 1294.4,694.9 1303.3,701.7 1312.3,707.3 1321.3,712.2 1330.2,716.2 1339.2,718 1348.2,716.9 1357.1,714.4 1366.1,710.6 1375.1,705 1386.3,697.2 1397.5,689.3 1404.9,684.9" fill="none" stroke="#ff0000" stroke-width="1" stroke-dasharray="3,3" shape-rendering="crispEdges"/>
<g shape-rendering="crispEdges" stroke="#c0c0c0" stroke-width="1" stroke-dasharray="3,3">
<line x1="2" y1="787.5" x2="1648" y2="787.5"/>
<line x1="2" y1="838.5" x2="1648" y2="838.5"/>
<line x1="2" y1="899.5" x2="1648" y2="899.5"/>
</g>
<polyline points="-3,819.4 5,819 13,817.5 21,815.4 29,811.6 37,820.1 45,820.1 53,825.2 61,823.3 69,818 77,814.4 85,831.4 93,822.6 101,819 109,824.8 117,833.5 125,831.4 133,827.5 141,822.6 149,824.3 157,814.1 165,802.7 173,794.6 181,799.9 189,810.1 197,808 205,811.6 213,810.5 221,810.5 229,818 237,826.5 245,823.3 253,817.5 261,807.3 269,817.5 277,807.3 285,798.4 293,807.3 301,807.3 309,806.3 317,811.6 325,813.3 333,807.3 341,805.2 349,801 357,797.2 365,801 373,812.7 381,809 389,805.6 397,815.8 405,825.4 413,819.5 421,819.5 429,817.5 437,811.6 445,795.7 453,792.1 461,790.4 469,787.2 477,784 485,778.2 493,806.3 501,808.4 509,817.5 517,820.5 525,820.5 533,813.3 541,811.6 549,811.6 557,819.5 565,809.5 573,824.3 581,822.6 589,823.7 597,858.3 605,854.5 613,855.6 621,862.6 629,860.5 637,866.8 645,876.4 653,877.4 661,886.6 669,868.5 677,871.7 685,859.4 693,867.5 701,872.6 709,880.2 717,881.7 725,883.8 733,873.8 741,870.4 749,869.4 757,866.4 765,867.5 773,865.1 781,844.5 789,825.4 797,840.3 805,838.1 813,834.3 821,836.4 829,835.4 837,833.3 845,834.3 853,835.4 861,836.4 869,832.2 877,828.6 885,828.6 893,837.1 901,839.2 909,846.6 917,846.6 925,842 933,834.5 941,842.4 949,844.1 957,846.6 965,845.6 973,849.4 981,841.8 989,846.6 997,851.5 1005,837.1 1013,834.5 1021,847.7 1029,842.8 1037,865.3 1045,869.6 1053,869.5 1061,861 1069,852.5 1077,862.5 1085,859.4 1093,858.3 1101,856.5 1109,853.6 1117,856.5 1125,850.4 1133,834.5 1141,853.1 1149,856.5 1157,852 1165,846.4 1173,854.2 1181,855.4 1189,857.6 1197,851.3 1205,854.7 1213,846.4 1221,852.5 1229,853.6 1237,854.2 1245,871.5 1253,874.4 1261,875.5 1269,888.5 1277,891.7 1285,894.6 1293,886.1 1301,877.3 1309,862.5 1317,865 1325,866.6 1333,850.2 1341,848 1349,843.7 1357,855.4 1365,849.1 1373,838.6 1381,843 1389,834.5 1397,835.9 1405,837.4" fill="none" stroke="#1e90ff" stroke-width="1" shape-rendering="crispEdges"/>
<g shape-rendering="crispEdges" fill="#000">
<rect x="0" y="24" width="1649" height="1"/>
<rect x="1648" y="24" width="1" height="902"/>
<rect x="0" y="573" width="1649" height="1"/>
<rect x="0" y="575" width="1649" height="1"/>
<rect x="0" y="749" width="1649" height="1"/>
<rect x="0" y="751" width="1649" height="1"/>
<rect x="0" y="925" width="1649" height="1"/>
<rect x="1648" y="574" width="1" height="1" fill="#fff"/>
<rect x="1648" y="750" width="1" height="1" fill="#fff"/>
<rect x="1649" y="42" width="2" height="1"/>
<rect x="1649" y="75" width="2" height="1"/>
<rect x="1649" y="107" width="2" height="1"/>
<rect x="1649" y="141" width="2" height="1"/>
<rect x="1649" y="174" width="2" height="1"/>
<rect x="1649" y="207" width="2" height="1"/>
<rect x="1649" y="239" width="2" height="1"/>
<rect x="1649" y="273" width="2" height="1"/>
<rect x="1649" y="306" width="2" height="1"/>
<rect x="1649" y="339" width="2" height="1"/>
<rect x="1649" y="372" width="2" height="1"/>
<rect x="1649" y="405" width="2" height="1"/>
<rect x="1649" y="504" width="2" height="1"/>
<rect x="1649" y="537" width="2" height="1"/>
<rect x="1649" y="570" width="2" height="1"/>
<rect x="1649" y="577" width="2" height="1"/>
<rect x="1649" y="647" width="2" height="1"/>
<rect x="1649" y="747" width="2" height="1"/>
<rect x="1649" y="753" width="2" height="1"/>
<rect x="1649" y="788" width="2" height="1"/>
<rect x="1649" y="839" width="2" height="1"/>
<rect x="1649" y="900" width="2" height="1"/>
<rect x="1649" y="919" width="2" height="1"/>
<rect x="53" y="926" width="1" height="3"/>
<rect x="117" y="926" width="1" height="3"/>
<rect x="181" y="926" width="1" height="3"/>
<rect x="245" y="926" width="1" height="3"/>
<rect x="309" y="926" width="1" height="3"/>
<rect x="373" y="926" width="1" height="3"/>
<rect x="437" y="926" width="1" height="3"/>
<rect x="501" y="926" width="1" height="3"/>
<rect x="565" y="926" width="1" height="3"/>
<rect x="629" y="926" width="1" height="3"/>
<rect x="693" y="926" width="1" height="3"/>
<rect x="757" y="926" width="1" height="3"/>
<rect x="821" y="926" width="1" height="3"/>
<rect x="885" y="926" width="1" height="3"/>
<rect x="949" y="926" width="1" height="3"/>
<rect x="1013" y="926" width="1" height="3"/>
<rect x="1077" y="926" width="1" height="3"/>
<rect x="1141" y="926" width="1" height="3"/>
<rect x="1205" y="926" width="1" height="3"/>
<rect x="1269" y="926" width="1" height="3"/>
<rect x="1333" y="926" width="1" height="3"/>
<rect x="1397" y="926" width="1" height="3"/>
</g>
<text class="ax" x="1654.5" y="45.5">168.635</text>
<text class="ax" x="1654.5" y="78.5">167.810</text>
<text class="ax" x="1654.5" y="110.5">166.985</text>
<text class="ax" x="1654.5" y="144.5">166.135</text>
<text class="ax" x="1654.5" y="177.5">165.310</text>
<text class="ax" x="1654.5" y="210.5">164.485</text>
<text class="ax" x="1654.5" y="242.5">163.660</text>
<text class="ax" x="1654.5" y="276.5">162.810</text>
<text class="ax" x="1654.5" y="309.5">161.985</text>
<text class="ax" x="1654.5" y="342.5">161.160</text>
<text class="ax" x="1654.5" y="375.5">160.310</text>
<text class="ax" x="1654.5" y="408.5">159.485</text>
<text class="ax" x="1654.5" y="507.5">156.985</text>
<text class="ax" x="1654.5" y="540.5">156.160</text>
<text class="ax" x="1654.5" y="573.5">155.335</text>
<text class="ax" x="1652.6" y="586">1.0643</text>
<text class="ax" x="1652.6" y="650.7">0.00</text>
<text class="ax" x="1652.6" y="746.2">-1.5495</text>
<text class="ax" x="1652.6" y="761.7">100</text>
<text class="ax" x="1652.6" y="791">80</text>
<text class="ax" x="1652.6" y="842">50</text>
<text class="ax" x="1652.6" y="903">15</text>
<text class="ax" x="1652.6" y="922">0</text>
<text class="ax dt" x="-13.5" y="937.5">5 Apr 2022</text>
<text class="ax dt" x="51.7" y="937.5">6 Apr 20:00</text>
<text class="ax dt" x="115.7" y="937.5">8 Apr 04:00</text>
<text class="ax dt" x="179.7" y="937.5">11 Apr 12:00</text>
<text class="ax dt" x="243.7" y="937.5">12 Apr 20:00</text>
<text class="ax dt" x="307.7" y="937.5">14 Apr 04:00</text>
<text class="ax dt" x="371.7" y="937.5">15 Apr 12:00</text>
<text class="ax dt" x="435.7" y="937.5">18 Apr 20:00</text>
<text class="ax dt" x="499.7" y="937.5">20 Apr 04:00</text>
<text class="ax dt" x="563.7" y="937.5">21 Apr 12:00</text>
<text class="ax dt" x="627.7" y="937.5">24 Apr 23:00</text>
<text class="ax dt" x="691.7" y="937.5">26 Apr 04:00</text>
<text class="ax dt" x="755.7" y="937.5">27 Apr 12:00</text>
<text class="ax dt" x="819.7" y="937.5">28 Apr 20:00</text>
<text class="ax dt" x="883.7" y="937.5">2 May 04:00</text>
<text class="ax dt" x="947.7" y="937.5">3 May 12:00</text>
<text class="ax dt" x="1011.7" y="937.5">4 May 20:00</text>
<text class="ax dt" x="1075.7" y="937.5">6 May 04:00</text>
<text class="ax dt" x="1139.7" y="937.5">9 May 12:00</text>
<text class="ax dt" x="1203.7" y="937.5">10 May 20:00</text>
<text class="ax dt" x="1267.7" y="937.5">12 May 04:00</text>
<text class="ax dt" x="1331.7" y="937.5">13 May 12:00</text>
<text class="ax dt" x="1395.7" y="937.5">16 May 20:00</text>
<text class="ax" x="4.3" y="35.5" style="font-size:9.26px;letter-spacing:0">GBPJPY-,H4  158.901 158.956 158.890 158.942</text>
<text class="ax" x="-4.6" y="587.6" style="font-size:9.2px;letter-spacing:0">MACD(12,26,9) -0.2524 -0.5660</text>
<text class="ax" x="-6" y="764" style="font-size:9.2px;letter-spacing:0">RSI(14) 51.7259</text>
<rect x="1650" y="360" width="41" height="11" fill="#ff0000" shape-rendering="crispEdges"/>
<text class="tg" x="1654.5" y="368.7">160.473</text>
<rect x="1650" y="390" width="41" height="11" fill="#ff0000" shape-rendering="crispEdges"/>
<text class="tg" x="1654.5" y="398.7">159.717</text>
<rect x="1650" y="422" width="41" height="11" fill="#000000" shape-rendering="crispEdges"/>
<text class="tg" x="1654.5" y="430.7">158.942</text>
<rect x="1650" y="434" width="41" height="11" fill="#32cd32" shape-rendering="crispEdges"/>
<text class="tg" x="1654.5" y="442.7">158.609</text>
<rect x="1650" y="464" width="41" height="11" fill="#0000ff" shape-rendering="crispEdges"/>
<text class="tg" x="1654.5" y="472.7">157.854</text>
<rect x="1650" y="489" width="41" height="11" fill="#0000ff" shape-rendering="crispEdges"/>
<text class="tg" x="1654.5" y="497.7">157.224</text>
<rect x="1643.5" y="364.5" width="4" height="4" fill="#fff" stroke="#ff0000" stroke-width="1" shape-rendering="crispEdges"/>
<rect x="1643.5" y="468.5" width="4" height="4" fill="#fff" stroke="#0000ff" stroke-width="1" shape-rendering="crispEdges"/>
<path d="M326.5 232.5 l2 2 l-2 2 l-2 -2 z" fill="#fff" stroke="#000" stroke-width="0.8"/>
<path d="M1408 24.5 l12 0 l-6 5.5 z" fill="#c0c0c0"/>
<g shape-rendering="crispEdges">
<line x1="1282.4" y1="555.4" x2="1406.2" y2="425.5" stroke="#ff0000" stroke-width="3.0" stroke-linecap="butt"/>
<path d="M1412.2 419.1 L1408.1 430.6 L1406.0 425.6 L1400.9 423.7 Z" fill="#ff0000" stroke="#ff0000" stroke-width="1" stroke-linejoin="round"/>
</g>
<g shape-rendering="crispEdges">
<line x1="1311.2" y1="721.8" x2="1411.4" y2="668.7" stroke="#ff0000" stroke-width="3.2" stroke-linecap="butt"/>
<path d="M1419.2 664.6 L1411.6 674.2 L1411.2 668.8 L1407.0 665.4 Z" fill="#ff0000" stroke="#ff0000" stroke-width="1" stroke-linejoin="round"/>
</g>
<g shape-rendering="crispEdges">
<line x1="1294.4" y1="874.9" x2="1362.0" y2="842.1" stroke="#ff0000" stroke-width="3.2" stroke-linecap="butt"/>
<path d="M1369.9 838.2 L1362.0 847.6 L1361.7 842.2 L1357.6 838.6 Z" fill="#ff0000" stroke="#ff0000" stroke-width="1" stroke-linejoin="round"/>
</g>
<g shape-rendering="crispEdges">
<line x1="1364.0" y1="837.9" x2="1411.4" y2="837.5" stroke="#ff0000" stroke-width="3.2" stroke-linecap="butt"/>
<path d="M1420.2 837.4 L1409.0 842.5 L1411.2 837.5 L1409.0 832.5 Z" fill="#ff0000" stroke="#ff0000" stroke-width="1" stroke-linejoin="round"/>
</g>
</svg>
<div id="panel">
<div style="left:0;top:0;width:44px;height:24px;background:linear-gradient(#f45555,#d93030);box-sizing:border-box;border-top:1px solid #c01818;border-right:1px solid #c01818"></div>
<div style="left:0;top:23px;width:40px;height:1px;background:#a80808"></div>
<div style="left:0;top:24px;width:40px;height:1px;background:#ee7070;z-index:2"></div>
<div style="left:159px;top:0;width:52px;height:24px;background:linear-gradient(#f45555,#d93030);box-sizing:border-box;border-top:1px solid #c01818;border-left:1px solid #c01818"></div>
<div style="left:163px;top:23px;width:44px;height:1px;background:#a80808"></div>
<div style="left:163px;top:24px;width:44px;height:1px;background:#ee7070;z-index:2"></div>
<div style="left:0;top:24px;width:101px;height:33px;background:linear-gradient(#dc2c2c,#c41414 50%,#ae0000)"></div>
<div style="left:103px;top:24px;width:108px;height:33px;background:linear-gradient(#dc2c2c,#c41414 50%,#ae0000)"></div>
<div style="left:44px;top:0;width:115px;height:24px;background:#fff"></div>
<div style="left:46px;top:0;width:112px;height:22px;background:#fff;box-sizing:border-box;border:1px solid #a9adb3"></div>
<div style="left:47px;top:1px;width:20px;height:20px;background:linear-gradient(#f4f4f4,#e2e2e2 50%,#cfcfcf 52%,#d8d8d8)"></div>
<div style="left:67px;top:1px;width:1px;height:20px;background:#a9adb3"></div>
<div style="left:137px;top:1px;width:20px;height:20px;background:linear-gradient(#f4f4f4,#e2e2e2 50%,#cfcfcf 52%,#d8d8d8)"></div>
<div style="left:136px;top:1px;width:1px;height:20px;background:#a9adb3"></div>
<div style="left:53.5px;top:9px;width:0;height:0;border-left:3px solid transparent;border-right:3px solid transparent;border-top:4px solid #4a5fc0"></div>
<div style="left:143.5px;top:8px;width:0;height:0;border-left:3px solid transparent;border-right:3px solid transparent;border-bottom:4px solid #4a5fc0"></div>
<div style="left:68px;top:3px;width:64px;text-align:right;font-size:12px;line-height:16px;color:#111">1.00</div>
<div class="pw sx" style="left:4.3px;top:3.2px;font-size:11.8px;line-height:16px;transform:scaleX(.875)">SELL</div>
<div class="pw sx" style="left:172.6px;top:3.2px;font-size:11.8px;line-height:16px;transform:scaleX(.925)">BUY</div>
<div class="pw sx" style="left:15.2px;top:40.7px;font-size:11.8px;line-height:12px;font-weight:bold;transform:scaleX(1.03)">158</div>
<div class="pw sx" style="left:39.6px;top:19.6px;font-size:34.5px;line-height:40px;transform:scaleX(.92)">94</div>
<div class="pw" style="left:79.2px;top:25.4px;font-size:12.6px;line-height:12px;font-weight:bold">2</div>
<div class="pw sx" style="left:125.3px;top:40.7px;font-size:11.8px;line-height:12px;font-weight:bold;transform:scaleX(1.03)">159</div>
<div class="pw sx" style="left:150px;top:19.6px;font-size:34.5px;line-height:40px;transform:scaleX(.944)">00</div>
<div class="pw" style="left:190px;top:25.4px;font-size:12.6px;line-height:12px;font-weight:bold">5</div>
</div>
<svg width="1695" height="22" viewBox="0 0 1695 22" style="z-index:3">
<defs>
<linearGradient id="gGold" x1="0" y1="0" x2="1" y2="1"><stop offset="0" stop-color="#f8dc70"/><stop offset="1" stop-color="#c08a10"/></linearGradient>
<linearGradient id="gGreen" x1="0" y1="0" x2="0" y2="1"><stop offset="0" stop-color="#7dff7d"/><stop offset="1" stop-color="#12b012"/></linearGradient>
<linearGradient id="gBlue" x1="0" y1="0" x2="0" y2="1"><stop offset="0" stop-color="#5fb4ff"/><stop offset="1" stop-color="#1a6fe0"/></linearGradient>
<linearGradient id="gLens" x1="0" y1="0" x2="0" y2="1"><stop offset="0" stop-color="#e8f4ff"/><stop offset="1" stop-color="#a8d0f4"/></linearGradient>
<pattern id="pHi" width="2" height="2" patternUnits="userSpaceOnUse"><rect width="2" height="2" fill="#f7f7f7"/><rect width="1" height="1" fill="#ececec"/><rect x="1" y="1" width="1" height="1" fill="#ececec"/></pattern>
<g id="axes" stroke="#555" stroke-width="1.15" fill="none"><path d="M2.5 15.6 V3 M0 13.2 H13"/><path d="M1.2 4.6 L2.5 2.4 L3.8 4.6 Z M11.6 11.9 L13.8 13.2 L11.6 14.5 Z" stroke-width="0.8" fill="#555"/></g>
<g id="grip" fill="#a4a4a4" shape-rendering="crispEdges"><rect x="0" y="1" width="3" height="1"/><rect x="0" y="3" width="3" height="1"/><rect x="0" y="5" width="3" height="1"/><rect x="0" y="7" width="3" height="1"/><rect x="0" y="9" width="3" height="1"/><rect x="0" y="11" width="3" height="1"/><rect x="0" y="13" width="3" height="1"/><rect x="0" y="15" width="3" height="1"/></g>
<path id="dd" d="M0 0 h5.4 l-2.7 3.2 z" fill="#000"/>
</defs>
<!-- highlighted (active) buttons -->
<rect x="284" y="0" width="24" height="18" fill="url(#pHi)"/>
<rect x="436" y="0" width="24" height="18" fill="url(#pHi)"/>
<rect x="464" y="0" width="24" height="18" fill="url(#pHi)"/>
<rect x="624" y="0" width="24" height="18" fill="url(#pHi)"/>
<!-- separators -->
<g shape-rendering="crispEdges">
<rect x="0" y="14" width="2" height="4" fill="#c89a20"/>
<rect x="9" y="0" width="1" height="18" fill="#a6a6a6"/>
<rect x="245" y="0" width="1" height="20" fill="#8c8c8c"/>
<rect x="283" y="0" width="1" height="18" fill="#a6a6a6"/>
<rect x="340" y="0" width="1" height="18" fill="#a6a6a6"/>
<rect x="430" y="0" width="1" height="18" fill="#a6a6a6"/>
<rect x="435" y="0" width="1" height="18" fill="#a6a6a6"/>
<rect x="463" y="0" width="1" height="18" fill="#a6a6a6"/>
<rect x="492" y="0" width="1" height="18" fill="#a6a6a6"/>
<rect x="613" y="0" width="1" height="20" fill="#8c8c8c"/>
<rect x="623" y="0" width="1" height="18" fill="#a6a6a6"/>
<rect x="680" y="0" width="1" height="18" fill="#a6a6a6"/>
<rect x="919" y="0" width="1" height="20" fill="#8c8c8c"/>
<rect x="1180" y="0" width="1" height="20" fill="#8c8c8c"/>
</g>
<use href="#grip" x="249" y="0"/><use href="#grip" x="617" y="0"/><use href="#grip" x="923" y="0"/>
<!-- new order -->
<path d="M19.7 0.3 h7.3 l3.5 3.5 v9.9 h-10.8 z" fill="#fdfdfd" stroke="#858585" stroke-width="1"/>
<path d="M22 3.5 h3 M22 6.5 h5 M22 9.5 h4" stroke="#a8a8a8" stroke-width="1"/>
<path d="M27 6.8 h4 v3.6 h3.7 v4 h-3.7 v3.4 h-4 v-3.4 h-3.7 v-4 h3.7 z" fill="url(#gGreen)" stroke="#0c9a0c" stroke-width="0.9"/>
<!-- book -->
<path d="M86.2 10.8 L94.8 16.6 L102.3 9.8 L102 8.6 L95 15 L86 10 Z" fill="#b8860b"/>
<path d="M90 1.3 L102 8.7 L95 15.2 L86 10.1 Z" fill="url(#gGold)" stroke="#b07c08" stroke-width="0.9"/>
<path d="M90.6 2.6 L87.4 9.8" stroke="#fff0a8" stroke-width="0.9" fill="none"/>
<!-- cloud/server -->
<rect x="116.5" y="0" width="10.5" height="9" fill="url(#gBlue)"/>
<rect x="120" y="2.5" width="6" height="1.3" fill="#e8f2ff"/><rect x="120" y="5" width="6" height="1.3" fill="#e8f2ff"/>
<path d="M116.5 15.5 a3 3 0 0 1 0.5 -6 a3.6 3.6 0 0 1 6.6 -1 a3 3 0 0 1 4.4 2.3 a2.4 2.4 0 0 1 -0.5 4.7 z" fill="#f2f6fc" stroke="#7f9fd0" stroke-width="1"/>
<!-- signal -->
<circle cx="150" cy="7.8" r="7.2" fill="none" stroke="#b8cbe8" stroke-width="1.2"/>
<path d="M150 0.6 a7.2 7.2 0 0 1 0 14.4" fill="none" stroke="#8fc79a" stroke-width="1.4"/>
<circle cx="150" cy="7.8" r="4.6" fill="none" stroke="#5c86d8" stroke-width="1.3"/>
<path d="M150 3.2 a4.6 4.6 0 0 1 0 9.2" fill="none" stroke="#6fb87f" stroke-width="1.3"/>
<circle cx="150" cy="7.8" r="1.7" fill="#2a5fd0"/>
<path d="M150.4 8 V15.6" stroke="#2ea043" stroke-width="1.6"/>
<!-- auto trading -->
<path d="M170 7 L184.5 7 L178 15.5 L175 15.5 Z" fill="url(#gGold)" stroke="#c89a20" stroke-width="0.8"/>
<ellipse cx="177" cy="5" rx="7.8" ry="2.6" fill="#6cb4ec" stroke="#3c8ad0" stroke-width="0.8"/>
<path d="M173.5 4.5 a3.6 4.2 0 0 1 7 0 z" fill="#7cc0f0" stroke="#3c8ad0" stroke-width="0.8"/>
<circle cx="181.4" cy="11.7" r="4.1" fill="#e02818"/>
<rect x="180" y="10.3" width="2.8" height="2.8" fill="#fff"/>
<!-- bar chart icon -->
<use href="#axes" x="261" y="0"/>
<path d="M270 3.8 V11 M270 4.3 H272.5 M267.5 10.5 H270" stroke="#1e9a1e" stroke-width="1.3" fill="none"/>
<!-- candle icon -->
<use href="#axes" x="289" y="0"/>
<path d="M297.4 0 V11.6" stroke="#1e9a1e" stroke-width="1.2"/>
<rect x="295.3" y="2.6" width="4.3" height="6.8" fill="#3fe03f" stroke="#1e9a1e" stroke-width="0.9"/>
<!-- line icon -->
<use href="#axes" x="317" y="0"/>
<path d="M318 10.8 C321 8 323 4.6 325 5.4 S328 8.5 330 9.2" stroke="#2e9a2e" stroke-width="1.2" fill="none"/>
<!-- zoom in -->
<path d="M359.3 10.2 L364 15" stroke="#c8a020" stroke-width="2.8" stroke-linecap="round"/>
<path d="M359.3 10.2 L364 15" stroke="#f0dc80" stroke-width="1" stroke-linecap="round"/>
<circle cx="355.3" cy="5.9" r="5.3" fill="url(#gLens)" stroke="#2a62c9" stroke-width="1.2"/>
<path d="M352.3 5.9 h6 M355.3 2.9 v6" stroke="#4a86cc" stroke-width="1.7"/>
<!-- zoom out -->
<path d="M387.3 10.2 L392 15" stroke="#c8a020" stroke-width="2.8" stroke-linecap="round"/>
<path d="M387.3 10.2 L392 15" stroke="#f0dc80" stroke-width="1" stroke-linecap="round"/>
<circle cx="383.3" cy="5.9" r="5.3" fill="url(#gLens)" stroke="#2a62c9" stroke-width="1.2"/>
<path d="M380.3 5.9 h6" stroke="#4a86cc" stroke-width="1.7"/>
<!-- tile -->
<rect x="405" y="0" width="7.6" height="7.6" fill="#43a81e"/><rect x="413.2" y="0" width="7.6" height="7.6" fill="#2458c8"/>
<rect x="405" y="8.2" width="7.6" height="7.6" fill="#2458c8"/><rect x="413.2" y="8.2" width="7.6" height="7.6" fill="#43a81e"/>
<g fill="#eef4ff"><rect x="406.2" y="3.2" width="5.2" height="3.2"/><rect x="414.4" y="3.2" width="5.2" height="3.2"/><rect x="406.2" y="11.4" width="5.2" height="3.2"/><rect x="414.4" y="11.4" width="5.2" height="3.2"/></g>
<!-- autoscroll -->
<use href="#axes" x="441" y="0"/>
<path d="M448.2 4.4 L452.3 7.6 L448.2 10.8 Z" fill="#5fe85f" stroke="#1e9a1e" stroke-width="0.9"/>
<!-- chart shift -->
<use href="#axes" x="469" y="0"/>
<path d="M477.5 2 V11.6" stroke="#1e6fb0" stroke-width="1.3"/>
<path d="M479 7.5 H483.5 M481.2 5.6 L479 7.5 L481.2 9.4" stroke="#d04010" stroke-width="1.2" fill="none"/>
<!-- indicators -->
<path d="M502.8 1 h7.3 l3.5 3.5 v8.8 h-10.8 z" fill="#fdfdfd" stroke="#9a9a9a" stroke-width="1"/>
<path d="M506.3 3.2 c-1.6 0 -1.2 3.4 -2.2 3.6 c1 0.2 0.6 3.6 2.2 3.6" fill="none" stroke="#777" stroke-width="0.9"/>
<path d="M510.3 6.8 h4 v3.6 h3.7 v4 h-3.7 v3.4 h-4 v-3.4 h-3.7 v-4 h3.7 z" fill="url(#gGreen)" stroke="#0c9a0c" stroke-width="0.9"/>
<use href="#dd" x="523.9" y="7"/>
<!-- clock -->
<circle cx="548" cy="7.9" r="6.6" fill="#f4f4f6" stroke="#1e6ed2" stroke-width="2.6"/>
<path d="M548 3.8 V8 L551 9" stroke="#333" stroke-width="1.1" fill="none"/>
<use href="#dd" x="562.7" y="7"/>
<!-- template -->
<rect x="579.5" y="1.2" width="15.2" height="13.5" fill="#fff" stroke="#3a78d0" stroke-width="1.1"/>
<rect x="579.5" y="1.2" width="15.2" height="2.3" fill="#5a98e8"/>
<path d="M580 8.6 H594.5" stroke="#5a98e8" stroke-width="0.9"/>
<path d="M581.5 7 l3 -0.6 l2 -1.2 l3 1 l3.5 -1.6" stroke="#a02010" stroke-width="1.2" fill="none"/>
<path d="M582.5 12.6 l3 -0.4 l2.2 -1.4 l2 1.2 l1.6 -1.6 l2 1.8" stroke="#2e9a2e" stroke-width="1.2" fill="none"/>
<use href="#dd" x="602" y="7"/>
<!-- cursor -->
<path d="M631 0.8 V12 L633.6 9.6 L635.8 14.8 L637.6 14 L635.4 9 L639 9 Z" fill="#484848"/>
<!-- crosshair -->
<path d="M663.5 1 V7 M663.5 9.6 V16 M655.8 8.3 H662.2 M664.8 8.3 H671" stroke="#555" stroke-width="1.1"/>
<!-- vline hline trend -->
<path d="M697.5 2.2 V15" stroke="#555" stroke-width="1.2"/>
<path d="M719.8 8.4 H732.2" stroke="#555" stroke-width="1.2"/>
<path d="M748 15 L760 3" stroke="#555" stroke-width="1.2"/>
<!-- channel -->
<path d="M773.5 10 L786.5 0.5 M775.5 14.5 L787.5 5 M777.5 7 L776 14 M781 4.5 L779.5 12 M784.5 2 L783 9" stroke="#555" stroke-width="1.1" fill="none"/>
<text x="785" y="16.6" style="font-family:'Liberation Sans',sans-serif;font-size:6.5px;font-weight:bold;fill:#444">E</text>
<!-- fibo -->
<path d="M803 1.7 H816 M803 4.7 H816 M803 8.5 H816 M803 12.5 H812" stroke="#666" stroke-width="1" stroke-dasharray="1,1"/>
<text x="812.8" y="16.6" style="font-family:'Liberation Sans',sans-serif;font-size:6.5px;font-weight:bold;fill:#444">F</text>
<!-- A -->
<text x="833.4" y="12.9" style="font-family:'Liberation Sans',sans-serif;font-size:12.4px;font-weight:bold;fill:#555">A</text>
<!-- T box -->
<rect x="860" y="1.7" width="11.3" height="13" fill="none" stroke="#666" stroke-width="1" stroke-dasharray="1,1"/>
<text x="862.3" y="12.6" style="font-family:'Liberation Sans',sans-serif;font-size:11.5px;font-weight:bold;fill:#555">T</text>
<!-- arrows -->
<path d="M890.4 1.5 l3 3 l-3 2.6 l-3 -2.6 z M897.6 9.4 l3 2.6 l-3 3 l-3 -3 z" fill="#4a4a4a"/>
<path d="M889.5 9.5 l2 2.2 l4.2 -5" stroke="#4a4a4a" stroke-width="1.4" fill="none"/>
<use href="#dd" x="908" y="7"/>
<!-- search -->
<path d="M1647.8 8.8 L1642.8 13.6" stroke="#2a5cd0" stroke-width="2.4" stroke-linecap="round"/>
<circle cx="1650.6" cy="5.5" r="4" fill="#f6f8fc" stroke="#2a5cd0" stroke-width="1.3"/>
<!-- chat bubble + badge -->
<path d="M1668 8 a6 4.6 0 0 1 12 0 a6 4.6 0 0 1 -6 4.6 l-3.2 0 l-1.3 3 l-0.3 -3.6 a4.6 4.6 0 0 1 -1.2 -4 z" fill="#e4e6ea" stroke="#a8a8a8" stroke-width="1"/>
<circle cx="1681.6" cy="6" r="8.2" fill="url(#gBadge2)"/>
<linearGradient id="gBadge2" x1="0" y1="0" x2="0" y2="1"><stop offset="0" stop-color="#ea5a3a"/><stop offset="1" stop-color="#d31f10"/></linearGradient>
<text x="1678.2" y="10.2" font-family="Liberation Sans, sans-serif" font-size="12.5" fill="#fff">1</text>

</svg>
</body></html>
